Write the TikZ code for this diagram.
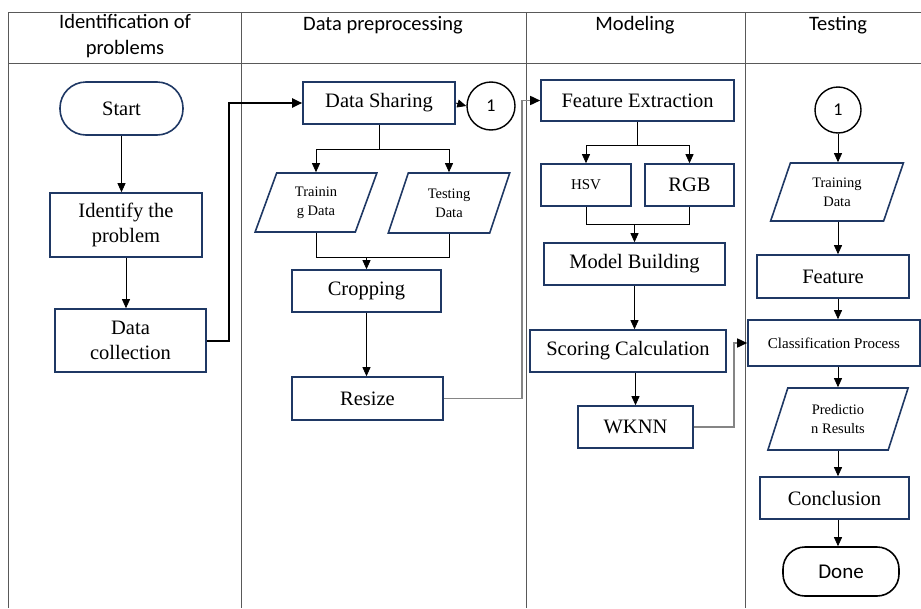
\documentclass[tikz,border=0pt]{standalone}
\usepackage{fontspec}
\setmainfont{Liberation Serif}
\newfontfamily\boxfont{Liberation Serif}
\newfontfamily\hdrfont{Carlito}
\usetikzlibrary{shapes.geometric,arrows.meta}

\definecolor{navy}{HTML}{1F3864}
\definecolor{gridgrey}{HTML}{595959}
\definecolor{linkgrey}{HTML}{858585}

\begin{document}
\begin{tikzpicture}[x=1pt,y=-1pt,
  box/.style={draw=navy, line width=1.6pt, rectangle, inner sep=0pt, align=center,
              font=\boxfont\fontsize{20.5}{25.5}\selectfont},
  smallbox/.style={box, font=\boxfont\fontsize{15}{18}\selectfont},
  term/.style={draw=navy, line width=1.6pt, rectangle, inner sep=0pt, align=center,
              font=\boxfont\fontsize{20.5}{25}\selectfont},
  iobox/.style={draw=navy, line width=1.6pt, trapezium, trapezium left angle=70,
              trapezium right angle=110, trapezium stretches=true, inner sep=0pt,
              align=center, font=\boxfont\fontsize{14.5}{19}\selectfont},
  conn/.style={draw=black, line width=1.4pt, circle, inner sep=0pt, minimum size=48pt,
              font=\hdrfont\fontsize{18}{20}\selectfont},
  hdr/.style={align=center, font=\hdrfont\fontsize{20.5}{26}\selectfont, inner sep=0pt},
  link/.style={draw=black, line width=0.8pt},
  arr/.style={link, -{Triangle[length=9pt,width=8pt]}},
  thick link/.style={draw=black, line width=2pt, -{Triangle[length=10pt,width=9pt]}},
  grey link/.style={draw=linkgrey, line width=1.6pt, -{Triangle[length=10pt,width=9pt,color=black]}},
  grid/.style={draw=gridgrey, line width=1pt}
]
\useasboundingbox (0,0) rectangle (921,608);

% swimlane table
\draw[grid] (8,608) -- (8,12) -- (921,12);
\draw[grid] (8,63) -- (921,63);
\foreach \cx in {241,526,745} \draw[grid] (\cx,12) -- (\cx,608);

% lane headings
\node[hdr] (h1) at (125,36) {Identification of\\problems};
\node[hdr] (h2) at (383,25) {Data preprocessing};
\node[hdr] (h3) at (635,25) {Modeling};
\node[hdr] (h4) at (838,25) {Testing};

% lane 1: identification of problems
\node[term, rounded corners=26pt, minimum width=123pt, minimum height=53pt] (start) at (121.5,108.5) {Start};
\node[box, minimum width=152pt, minimum height=64pt] (identify) at (126,225) {Identify the\\problem};
\node[box, minimum width=151pt, minimum height=63pt] (collect) at (130.5,340.5) {Data\\collection};

% lane 2: data preprocessing
\node[box, minimum width=152pt, minimum height=42pt] (share) at (379,103) {Data Sharing};
\node[conn] (c1a) at (491,106) {1};
\node[iobox, minimum width=122pt, minimum height=59pt] (trainA) at (316,202.5) {Trainin\\g Data};
\node[iobox, minimum width=122pt, minimum height=60pt] (testA) at (449,203) {Testing\\Data};
\node[box, minimum width=149pt, minimum height=42pt] (crop) at (366.5,291) {Cropping};
\node[box, minimum width=151pt, minimum height=43pt] (resize) at (367.5,398.5) {Resize};

% lane 3: modeling
\node[box, minimum width=193pt, minimum height=41pt] (fext) at (637.5,100.5) {Feature Extraction};
\node[smallbox, minimum width=90pt, minimum height=42pt] (hsv) at (586,185) {HSV};
\node[box, minimum width=89pt, minimum height=42pt] (rgb) at (689.5,185) {RGB};
\node[box, minimum width=181pt, minimum height=42pt] (model) at (634.5,264) {Model Building};
\node[box, minimum width=196pt, minimum height=42pt] (score) at (628,351) {Scoring Calculation};
\node[box, minimum width=115pt, minimum height=42pt] (wknn) at (635.5,427) {WKNN};

% lane 4: testing
\node[conn, minimum size=46pt] (c1b) at (838,110) {1};
\node[iobox, minimum width=133pt, minimum height=58pt] (trainB) at (837,192) {Training\\Data};
\node[box, minimum width=152pt, minimum height=43pt] (feat) at (833,276.5) {Feature};
\node[smallbox, minimum width=172pt, minimum height=46pt] (classp) at (834,343) {Classification Process};
\node[iobox, minimum width=141pt, minimum height=62pt] (pred) at (838,419) {Predictio\\n Results};
\node[box, minimum width=149pt, minimum height=42pt] (concl) at (834.5,498) {Conclusion};
\node[term, draw=black, rounded corners=22pt, minimum width=116pt, minimum height=49pt,
      font=\hdrfont\fontsize{21}{22}\selectfont] (done) at (841,571.5) {Done};

% connectors, lane 1
\draw[arr] (start.south) -- (start.south |- identify.north);
\draw[arr] (identify.south) -- (identify.south |- collect.north);
\draw[thick link] (collect.east) -- ++(22,0) |- (share.west);

% connectors, lane 2
\draw[arr] (share.east) -- (c1a.west);
\draw[link] (share.south) -- ++(0,25) coordinate (splitA);
\draw[arr] (splitA) -| (trainA.north);
\draw[arr] (splitA) -| (testA.north);
\draw[link] (trainA.south) -- ++(0,25) coordinate (mergeA) -| (testA.south);
\draw[arr] (crop.north |- mergeA) -- (crop.north);
\draw[arr] (crop.south) -- (crop.south |- resize.north);
\draw[grey link] (resize.east) -- ++(78,0) |- (fext.west);

% connectors, lane 3
\draw[link] (fext.south) -- ++(0,24) coordinate (splitB);
\draw[arr] (splitB) -| (hsv.north);
\draw[arr] (splitB) -| (rgb.north);
\draw[link] (hsv.south) -- ++(0,18) coordinate (mergeB) -| (rgb.south);
\draw[arr] (model.north |- mergeB) -- (model.north);
\draw[arr] (model.south) -- (model.south |- score.north);
\draw[arr] (wknn.north |- score.south) -- (wknn.north);
\draw[grey link] (wknn.east) -- ++(40,0) |- (classp.west);

% connectors, lane 4
\draw[arr] (c1b.south) -- (c1b.south |- trainB.north);
\draw[arr] (trainB.south -| c1b) -- (feat.north -| c1b);
\draw[arr] (feat.south -| c1b) -- (classp.north -| c1b);
\draw[arr] (classp.south -| c1b) -- (pred.north -| c1b);
\draw[arr] (pred.south -| c1b) -- (concl.north -| c1b);
\draw[arr] (concl.south -| c1b) -- (done.north -| c1b);
\end{tikzpicture}
\end{document}
